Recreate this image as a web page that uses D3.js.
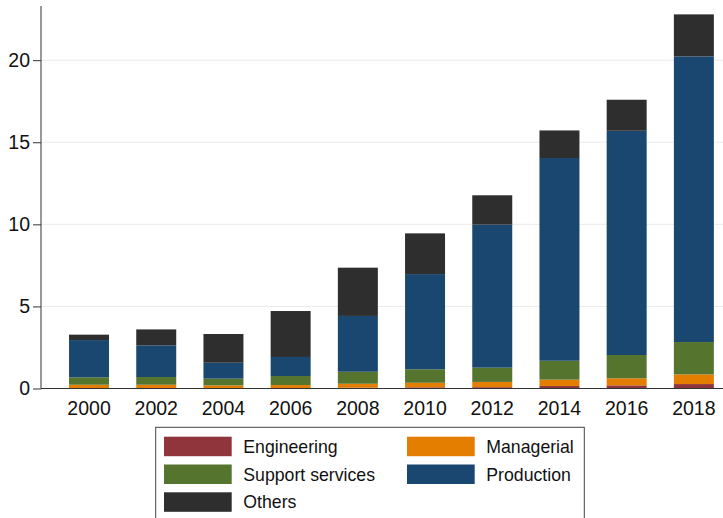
<!DOCTYPE html>
<html>
<head>
<meta charset="utf-8">
<script src="https://cdn.jsdelivr.net/npm/d3@7"></script>
<style>
  html, body { margin: 0; padding: 0; background: #fff; }
  svg { display: block; font-family: "Liberation Sans", Arial, sans-serif; }
</style>
</head>
<body>
<svg id="chart" width="723" height="518"></svg>
<script>
// Survey years shown on the x axis
const years = ["2000", "2002", "2004", "2006", "2008", "2010", "2012", "2014", "2016", "2018"];

// Employment by occupation group (stacked from the bottom up)
const engineering    = [0.03, 0.03, 0.03, 0.03, 0.05, 0.07, 0.08, 0.15, 0.19, 0.27];
const managerial     = [0.20, 0.20, 0.16, 0.18, 0.24, 0.28, 0.32, 0.39, 0.43, 0.59];
const supportServices = [0.45, 0.47, 0.41, 0.55, 0.73, 0.82, 0.87, 1.15, 1.42, 1.97];
const production     = [2.27, 1.93, 0.97, 1.16, 3.40, 5.80, 8.71, 12.35, 13.66, 17.40];
const others         = [0.33, 0.97, 1.75, 2.80, 2.94, 2.48, 1.79, 1.68, 1.89, 2.56];

const yTicks = [0, 5, 10, 15, 20];

const seriesNames = ["Engineering", "Managerial", "Support services", "Production", "Others"];
const seriesColors = ["#90353b", "#e37e00", "#55752f", "#1a476f", "#2e2e2e"];

// Build a row-wise table for d3.stack
const seriesValues = [engineering, managerial, supportServices, production, others];
const table = years.map((yr, i) => {
  const row = { year: yr };
  seriesNames.forEach((name, k) => { row[name] = seriesValues[k][i]; });
  return row;
});

const svg = d3.select("#chart");

const axisX = 41;
const baseY = 388.5;

const x = d3.scaleBand()
  .domain(years)
  .range([55.6, 727.3])
  .paddingInner(0.405)
  .paddingOuter(0.2);

const y = d3.scaleLinear()
  .domain([0, 23.3])
  .range([baseY, 6]);

// Horizontal grid lines
svg.append("g")
  .selectAll("line")
  .data(yTicks.filter(t => t > 0))
  .join("line")
  .attr("x1", axisX)
  .attr("x2", 723)
  .attr("y1", d => y(d))
  .attr("y2", d => y(d))
  .attr("stroke", "#ebebeb")
  .attr("stroke-width", 1);

// Stacked bars
const stacked = d3.stack().keys(seriesNames)(table);
const color = d3.scaleOrdinal().domain(seriesNames).range(seriesColors);

svg.append("g")
  .selectAll("g")
  .data(stacked)
  .join("g")
  .attr("fill", d => color(d.key))
  .selectAll("rect")
  .data(d => d)
  .join("rect")
  .attr("x", d => x(d.data.year))
  .attr("width", x.bandwidth())
  .attr("y", d => y(d[1]))
  .attr("height", d => y(d[0]) - y(d[1]));

// Y axis
const yAxis = svg.append("g")
  .attr("transform", `translate(${axisX},0)`)
  .call(d3.axisLeft(y).tickValues(yTicks).tickSize(8).tickPadding(3).tickFormat(d3.format("d")));
yAxis.select(".domain").attr("d", `M0,${y(23.3)}V${baseY}`).attr("stroke", "#333");
yAxis.selectAll(".tick line").attr("stroke", "#333");
yAxis.selectAll(".tick text")
  .attr("fill", "#111")
  .style("font-size", "19.5px")
  .style("font-family", "'Liberation Sans', Arial, sans-serif");

// X axis (labels only, no tick marks)
const xAxis = svg.append("g")
  .attr("transform", `translate(0,${baseY})`)
  .call(d3.axisBottom(x).tickSize(0).tickPadding(13));
xAxis.select(".domain").attr("d", `M${axisX},0H723`).attr("stroke", "#333");
xAxis.selectAll(".tick text")
  .attr("fill", "#111")
  .style("font-size", "19.5px")
  .style("font-family", "'Liberation Sans', Arial, sans-serif");

// Legend
const legend = svg.append("g");
legend.append("rect")
  .attr("x", 155.7)
  .attr("y", 427.3)
  .attr("width", 428.6)
  .attr("height", 110)
  .attr("fill", "#fff")
  .attr("stroke", "#444")
  .attr("stroke-width", 1);

const legendCols = [164, 407];
const legendRows = [436.7, 464.5, 492.3];
seriesNames.forEach((name, k) => {
  // Row-major layout: two entries per row
  const order = [0, 1, 2, 3, 4];
  const pos = order.indexOf(k);
  const col = pos % 2;
  const row = Math.floor(pos / 2);
  const g = legend.append("g")
    .attr("transform", `translate(${legendCols[col]},${legendRows[row]})`);
  g.append("rect")
    .attr("width", 67.7)
    .attr("height", 19.5)
    .attr("fill", seriesColors[k]);
  g.append("text")
    .attr("x", 79.3)
    .attr("y", 16)
    .attr("fill", "#111")
    .style("font-size", "17.7px")
    .text(name);
});
</script>
</body>
</html>
